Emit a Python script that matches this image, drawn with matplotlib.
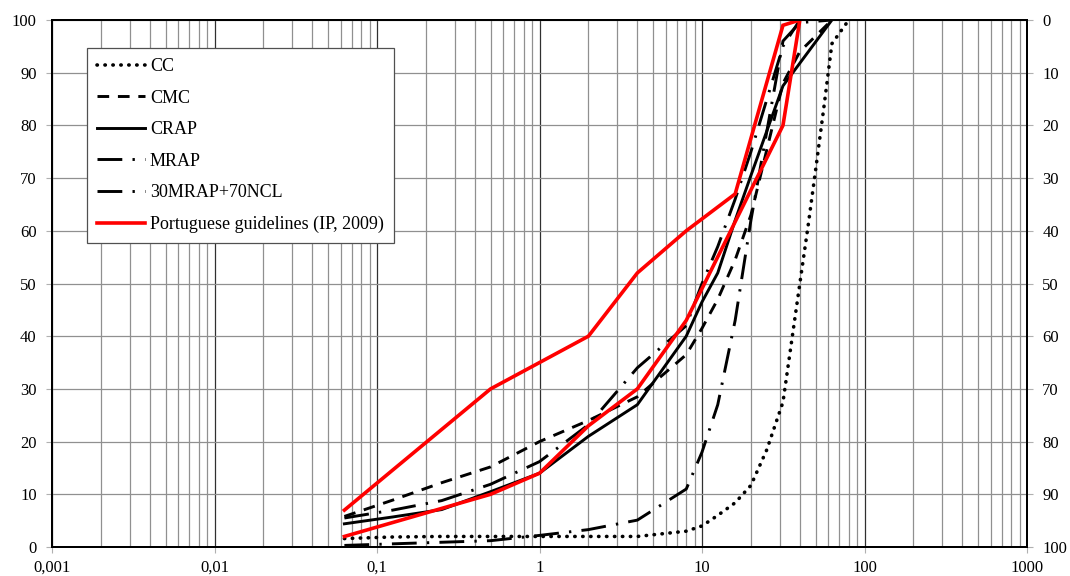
import matplotlib
matplotlib.use("Agg")
import matplotlib.pyplot as plt
from matplotlib.ticker import FixedLocator, FuncFormatter, LogLocator, NullFormatter

# ---- data (sieve size in mm, % passing) ----
cc_x = [0.063, 0.125, 0.25, 0.5, 1, 2, 4, 8, 10, 12.5, 16, 20, 25, 31.5, 40, 45, 50, 56, 63, 80]
cc_y = [1.6, 1.9, 2, 2, 2, 2, 2, 3, 4, 6, 8.4, 11.7, 18.4, 27.5, 50, 61, 71.5, 83, 95.5, 100]

cmc_x = [0.063, 0.125, 0.25, 0.5, 1, 2, 4, 8, 10, 12.5, 16, 20, 31.5, 40, 63]
cmc_y = [5.8, 8.9, 12.2, 15.2, 20, 24, 28.5, 36.5, 41.5, 47, 54.5, 63, 88, 94, 100]

crap_x = [0.063, 0.125, 0.25, 0.5, 1, 2, 4, 8, 10, 12.5, 16, 20, 31.5, 63]
crap_y = [4.4, 5.7, 7.1, 10.5, 14, 21, 27, 40, 46.5, 52, 62, 70.5, 87.5, 100]

mrap_x = [0.063, 0.125, 0.25, 0.5, 1, 2, 4, 8, 10, 12.5, 16, 20, 31.5, 40]
mrap_y = [5.5, 7, 8.8, 11.9, 16.2, 23.2, 34, 42, 50, 57, 66, 75, 95, 100]

mix_x = [0.063, 0.125, 0.25, 0.5, 1, 2, 4, 8, 10, 12.5, 16, 20, 31.5, 40, 63]
mix_y = [0.3, 0.6, 0.9, 1.2, 2.2, 3.3, 5.1, 11, 18, 27, 43, 62, 96, 99.5, 100]

ip_upper_x = [0.063, 0.5, 2, 4, 8, 16, 31.5, 40]
ip_upper_y = [7, 30, 40, 52, 60, 67, 99, 100]
ip_lower_x = [0.063, 0.5, 1, 2, 4, 8, 31.5, 40]
ip_lower_y = [2, 10, 14, 23, 30, 43, 80, 100]

labels = ["CC", "CMC", "CRAP", "MRAP", "30MRAP+70NCL", "Portuguese guidelines (IP, 2009)"]
xticks = [0.001, 0.01, 0.1, 1, 10, 100, 1000]
yticks = list(range(0, 101, 10))

plt.rcParams['font.family'] = ['Liberation Serif', 'DejaVu Serif']
plt.rcParams['font.size'] = 12

fig = plt.figure(figsize=(10.7, 5.76), dpi=100)
ax = fig.add_axes([52/1070, 1 - 547/576, 975/1070, 527/576])

ax.set_xscale('log')
ax.set_xlim(0.001, 1000)
ax.set_ylim(0, 100)

# grid
ax.xaxis.set_major_locator(FixedLocator(xticks))
ax.xaxis.set_minor_locator(LogLocator(base=10, subs=range(2, 10), numticks=100))
ax.xaxis.set_minor_formatter(NullFormatter())
ax.set_yticks(yticks)
ax.grid(which='major', axis='x', color='#303030', lw=0.9)
ax.grid(which='minor', axis='x', color='#909090', lw=0.9)
ax.grid(which='major', axis='y', color='#909090', lw=0.9)
ax.set_axisbelow(True)

def fmt(v, pos):
    s = ('%g' % v)
    return s.replace('.', ',')
ax.xaxis.set_major_formatter(FuncFormatter(fmt))
ax.tick_params(axis='x', which='major', length=4, direction='out', pad=5,
               labelsize=12, color='#b0b0b0')
ax.tick_params(axis='x', which='minor', length=0)
ax.tick_params(axis='y', length=4, direction='out', pad=7, labelsize=12, color='#b0b0b0')

for s in ax.spines.values():
    s.set_color('black')
    s.set_linewidth(1.4)

k = 'black'
l_cc, = ax.plot(cc_x, cc_y, color=k, lw=2.6, linestyle=(0, (0.1, 2.1)),
                dash_capstyle='round', solid_capstyle='round', label=labels[0])
l_cmc, = ax.plot(cmc_x, cmc_y, color=k, lw=2.1, linestyle=(0, (4.0, 3.0)),
                 dash_capstyle='butt', label=labels[1])
l_crap, = ax.plot(crap_x, crap_y, color=k, lw=2.1, linestyle='-', label=labels[2])
l_mrap, = ax.plot(mrap_x, mrap_y, color=k, lw=2.1, linestyle=(0, (8.5, 3.5, 0.8, 3.5)),
                  dash_capstyle='butt', label=labels[3])
l_mix, = ax.plot(mix_x, mix_y, color=k, lw=2.1, linestyle=(0, (8.5, 3.5, 0.8, 3.5)),
                 dash_capstyle='butt', label=labels[4])
ip_x = ip_upper_x + ip_lower_x[::-1]
ip_y = ip_upper_y + ip_lower_y[::-1]
l_ip, = ax.plot(ip_x, ip_y, color='#ff0000', lw=2.6, solid_joinstyle='miter', label=labels[5])

# right axis (inverted)
ax2 = ax.twinx()
ax2.set_ylim(100, 0)
ax2.set_yticks(yticks)
ax2.tick_params(axis='y', length=4, direction='out', pad=7, labelsize=12, color='#b0b0b0')
for s in ax2.spines.values():
    s.set_color('black')
    s.set_linewidth(1.4)

leg = ax.legend(handles=[l_cc, l_cmc, l_crap, l_mrap, l_mix, l_ip],
                loc='upper left', bbox_to_anchor=(35/975, (547-48)/527),
                borderaxespad=0, frameon=True, fancybox=False, framealpha=1,
                edgecolor='#505050', handlelength=2.65, handletextpad=0.28,
                labelspacing=0.81, borderpad=0.55, fontsize=13)
leg.get_frame().set_linewidth(0.9)

fig.savefig('out.png', dpi=100)
